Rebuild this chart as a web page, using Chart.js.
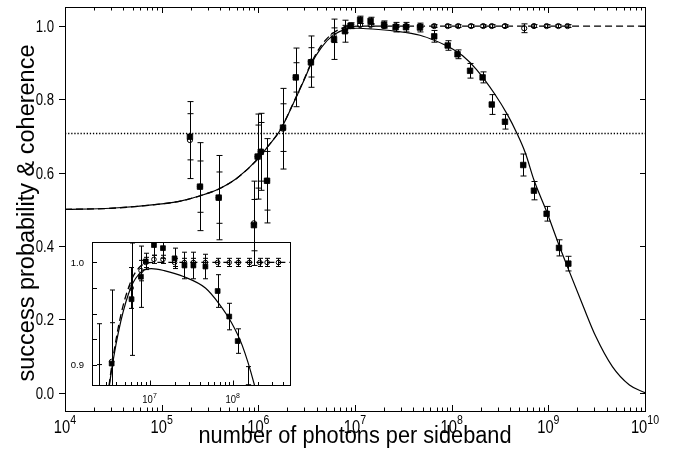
<!DOCTYPE html>
<html>
<head>
<meta charset="utf-8">
<script src="https://cdn.jsdelivr.net/npm/chart.js@4.4.1/dist/chart.umd.min.js"></script>
<style>
  html, body { margin: 0; padding: 0; background: #fff; }
  #wrap { position: relative; width: 676px; height: 455px; }
  #main { position: absolute; left: 0; top: 0; }
  #inset { position: absolute; left: 60px; top: 228px; }
</style>
</head>
<body>
<div id="wrap">
  <canvas id="main" width="676" height="455"></canvas>
  <canvas id="inset" width="240" height="182"></canvas>
</div>
<script>
// Measured success probability (filled squares)
var sqN   = [1.96e5, 2.49e5, 3.89e5, 9.0e5, 9.84e5, 1.06e6, 1.23e6, 1.80e6, 2.44e6, 3.50e6,
             6.07e6, 7.87e6, 9.0e6, 1.13e7, 1.45e7, 2.0e7, 2.63e7, 3.37e7, 4.7e7, 6.6e7,
             9.1e7, 1.15e8, 1.55e8, 2.09e8, 2.6e8, 3.56e8, 5.5e8, 7.1e8, 9.6e8, 1.29e9, 1.61e9];
var sqP   = [0.698, 0.562, 0.532, 0.457, 0.644, 0.657, 0.578, 0.723, 0.860, 0.901,
             0.964, 0.986, 1.001, 1.017, 1.014, 1.004, 0.997, 0.997, 0.996, 0.972,
             0.947, 0.923, 0.878, 0.860, 0.786, 0.739, 0.621, 0.551, 0.488, 0.395, 0.352];
var sqErr = [0.063, 0.07, 0.07, 0.07, 0.086, 0.08, 0.08, 0.065, 0.04, 0.04,
             0.055, 0.03, 0.008, 0.01, 0.01, 0.01, 0.013, 0.013, 0.012, 0.016,
             0.013, 0.012, 0.02, 0.015, 0.027, 0.02, 0.03, 0.025, 0.02, 0.022, 0.02];

// Measured coherence (open circles)
var ciN   = [1.96e5, 2.49e5, 3.89e5, 9.0e5, 9.84e5, 1.06e6, 1.23e6, 1.80e6, 2.44e6, 3.50e6,
             6.0e6, 7.9e6, 9.0e6, 1.13e7, 1.45e7, 2.0e7, 2.63e7, 3.37e7, 4.7e7, 6.6e7,
             9.1e7, 1.17e8, 1.59e8, 2.12e8, 2.6e8, 3.56e8, 5.63e8, 7.1e8, 9.6e8, 1.27e9, 1.58e9];
var ciP   = [0.689, 0.562, 0.532, 0.462, 0.644, 0.657, 0.578, 0.720, 0.860, 0.903,
             0.975, 0.992, 1.0, 1.003, 1.003, 1.0, 1.0, 1.0, 1.0, 1.0,
             1.0, 1.0, 1.0, 1.0, 1.0, 1.0, 0.994, 1.0, 1.0, 1.0, 1.0];
var ciErr = [0.105, 0.12, 0.115, 0.115, 0.116, 0.105, 0.115, 0.11, 0.08, 0.07,
             0.02, 0.01, 0.005, 0.004, 0.004, 0.004, 0.004, 0.004, 0.004, 0.004,
             0.004, 0.004, 0.004, 0.004, 0.004, 0.004, 0.012, 0.004, 0.004, 0.004, 0.004];

// Theory curve for success probability (solid line)
var fitN = [1e4, 3e4, 1e5, 1.6e5, 2.5e5, 4e5, 6e5, 1e6, 1.25e6, 1.7e6,
            2.3e6, 3e6, 3.5e6, 4.5e6, 6e6, 8e6, 1.05e7, 1.5e7, 2.6e7, 4.7e7,
            6.8e7, 9.7e7, 1.3e8, 1.8e8, 2.8e8, 3.8e8, 4.7e8, 5.8e8, 7.1e8, 9.6e8,
            1.3e9, 1.6e9, 2.3e9, 3.1e9, 4.6e9, 6.9e9, 1e10];
var fitP = [0.500, 0.503, 0.515, 0.523, 0.537, 0.557, 0.585, 0.639, 0.671, 0.718,
            0.789, 0.855, 0.895, 0.942, 0.976, 0.991, 0.994, 0.992, 0.986, 0.975,
            0.960, 0.941, 0.919, 0.882, 0.814, 0.757, 0.709, 0.653, 0.580, 0.494,
            0.400, 0.339, 0.235, 0.153, 0.071, 0.021, 0.0];

// Theory curve for coherence (dashed line)
var cohN = [1e4, 3e4, 1e5, 1.6e5, 2.5e5, 4e5, 6e5, 1e6, 1.25e6, 1.7e6,
            2.3e6, 3e6, 3.5e6, 4.5e6, 6e6, 7.5e6, 9e6, 1.2e7, 2e7, 1e8, 1e9, 1e10];
var cohP = [0.500, 0.503, 0.515, 0.523, 0.537, 0.557, 0.585, 0.639, 0.671, 0.719,
            0.790, 0.857, 0.898, 0.948, 0.982, 0.995, 0.999, 1.0, 1.0, 1.0, 1.0, 1.0];

// 1/sqrt(2) level (dotted line)
var levelN = [1e4, 1e10];
var levelP = [0.707, 0.707];

// Axis ticks
var mainDecades = [4, 5, 6, 7, 8, 9, 10];
var mainYTicks  = [0.0, 0.2, 0.4, 0.6, 0.8, 1.0];
var insetDecades = [6, 7, 8];
var insetXLabels = [7, 8];
var insetYTicks  = [0.9, 0.925, 0.95, 0.975, 1.0];
var insetYLabels = [0.9, 1.0];

function pts(xs, ys) {
    return xs.map(function(v, i) { return {x: v, y: ys[i]}; });
}

// Draws text with an optional horizontal / vertical squeeze
function drawText(ctx, text, x, y, font, sx, sy, align) {
    ctx.save();
    ctx.translate(x, y);
    ctx.scale(sx, sy);
    ctx.font = font;
    ctx.textAlign = align;
    ctx.textBaseline = 'alphabetic';
    ctx.fillText(text, 0, 0);
    ctx.restore();
}

// "10" with a raised exponent, centred on cx
function drawPower(ctx, exp, cx, base, o) {
    ctx.save();
    ctx.font = o.baseFont;
    var wb = ctx.measureText('10').width * o.sx;
    ctx.font = o.expFont;
    var we = ctx.measureText(String(exp)).width * o.sx;
    ctx.restore();
    var left = cx - (wb + we) / 2;
    drawText(ctx, '10', left, base, o.baseFont, o.sx, o.sy, 'left');
    drawText(ctx, String(exp), left + wb, base - o.raise, o.expFont, o.sx, o.sy, 'left');
}

// Error bars, drawn just under the markers of the dataset that owns them
var errorBars = {
    id: 'errorBars',
    beforeDatasetDraw: function(chart, args) {
        var ds = chart.data.datasets[args.index];
        if (!ds.errors) return;
        var ctx = chart.ctx, a = chart.chartArea;
        var xs = chart.scales.x, ys = chart.scales.y;
        var cap = ds.capWidth || 3;
        ctx.save();
        ctx.beginPath();
        ctx.rect(a.left, a.top, a.right - a.left, a.bottom - a.top);
        ctx.clip();
        ctx.strokeStyle = '#000';
        ctx.lineWidth = 1;
        ctx.beginPath();
        ds.data.forEach(function(p, i) {
            var e = ds.errors[i];
            var px = Math.round(xs.getPixelForValue(p.x)) + 0.5;
            var top = ys.getPixelForValue(p.y + e);
            var bot = ys.getPixelForValue(p.y - e);
            ctx.moveTo(px, top); ctx.lineTo(px, bot);
            ctx.moveTo(px - cap, top); ctx.lineTo(px + cap, top);
            ctx.moveTo(px - cap, bot); ctx.lineTo(px + cap, bot);
        });
        ctx.stroke();
        ctx.restore();
    }
};

// Frame, inward log ticks and labels of the main plot
var mainFrame = {
    id: 'mainFrame',
    afterDraw: function(chart) {
        var ctx = chart.ctx, a = chart.chartArea;
        var xs = chart.scales.x, ys = chart.scales.y;
        ctx.save();
        ctx.strokeStyle = '#000';
        ctx.fillStyle = '#000';
        ctx.lineWidth = 1;
        ctx.strokeRect(a.left + 0.5, a.top + 0.5, a.right - a.left, a.bottom - a.top);
        ctx.beginPath();
        mainDecades.forEach(function(d) {
            for (var k = 1; k <= 9; k++) {
                if (d === 10 && k > 1) break;
                var px = Math.round(xs.getPixelForValue(k * Math.pow(10, d))) + 0.5;
                var len = k === 1 ? 6 : 3.5;
                ctx.moveTo(px, a.bottom); ctx.lineTo(px, a.bottom - len);
                ctx.moveTo(px, a.top); ctx.lineTo(px, a.top + len);
            }
        });
        mainYTicks.forEach(function(v) {
            var py = Math.round(ys.getPixelForValue(v)) + 0.5;
            ctx.moveTo(a.left - 6, py); ctx.lineTo(a.left, py);
            ctx.moveTo(a.right + 1, py); ctx.lineTo(a.right - 5, py);
        });
        ctx.stroke();

        var lab = {baseFont: '16px "Liberation Sans", Arial, sans-serif',
                   expFont: '11.5px "Liberation Sans", Arial, sans-serif',
                   sx: 0.92, sy: 1.15, raise: 9};
        mainDecades.forEach(function(d) {
            drawPower(ctx, d, xs.getPixelForValue(Math.pow(10, d)), a.bottom + 22, lab);
        });
        mainYTicks.forEach(function(v) {
            drawText(ctx, v.toFixed(1), a.left - 11, ys.getPixelForValue(v) + 6,
                     '15px "Liberation Sans", Arial, sans-serif', 0.88, 1.15, 'right');
        });

        drawText(ctx, 'number of photons per sideband', (a.left + a.right) / 2, 443,
                 '23px "Liberation Sans", Arial, sans-serif', 0.945, 1.05, 'center');
        ctx.save();
        ctx.translate(34, 213);
        ctx.rotate(-Math.PI / 2);
        ctx.font = '23.5px "Liberation Sans", Arial, sans-serif';
        ctx.textAlign = 'center';
        ctx.fillText('success probability & coherence', 0, 0);
        ctx.restore();
        ctx.restore();
    }
};

// Frame and labels of the inset
var insetFrame = {
    id: 'insetFrame',
    afterDraw: function(chart) {
        var ctx = chart.ctx, a = chart.chartArea;
        var xs = chart.scales.x, ys = chart.scales.y;
        ctx.save();
        ctx.strokeStyle = '#000';
        ctx.fillStyle = '#000';
        ctx.lineWidth = 1;
        ctx.strokeRect(a.left + 0.5, a.top + 0.5, a.right - a.left, a.bottom - a.top);
        ctx.beginPath();
        insetDecades.forEach(function(d) {
            for (var k = 1; k <= 9; k++) {
                var v = k * Math.pow(10, d);
                if (v < xs.min || v > xs.max) continue;
                var px = Math.round(xs.getPixelForValue(v)) + 0.5;
                var len = k === 1 ? 4.5 : 3;
                ctx.moveTo(px, a.bottom); ctx.lineTo(px, a.bottom - len);
            }
        });
        insetYTicks.forEach(function(v) {
            var py = Math.round(ys.getPixelForValue(v)) + 0.5;
            ctx.moveTo(a.left, py); ctx.lineTo(a.left + 5, py);
        });
        ctx.stroke();

        var lab = {baseFont: '9.5px "Liberation Sans", Arial, sans-serif',
                   expFont: '7px "Liberation Sans", Arial, sans-serif',
                   sx: 1, sy: 1.1, raise: 5};
        insetXLabels.forEach(function(d) {
            drawPower(ctx, d, xs.getPixelForValue(Math.pow(10, d)), a.bottom + 17.5, lab);
        });
        insetYLabels.forEach(function(v) {
            drawText(ctx, v.toFixed(1), a.left - 8, ys.getPixelForValue(v) + 3.5,
                     '9.5px "Liberation Sans", Arial, sans-serif', 1, 1.05, 'right');
        });
        ctx.restore();
    }
};

function makeDatasets(sqSize, ciSize, cap) {
    return [
        {
            label: 'success probability',
            data: pts(sqN, sqP), errors: sqErr, capWidth: cap,
            pointStyle: 'rect', pointRadius: sqSize, borderWidth: 0.8,
            backgroundColor: '#000', borderColor: '#000', order: 0
        },
        {
            label: 'coherence',
            data: pts(ciN, ciP), errors: ciErr, capWidth: cap,
            pointStyle: 'circle', pointRadius: ciSize, borderWidth: 1,
            backgroundColor: 'rgba(255,255,255,0)', borderColor: '#000', order: 1
        },
        {
            label: 'success theory',
            data: pts(fitN, fitP), showLine: true, pointRadius: 0,
            borderColor: '#000', borderWidth: 1.2, cubicInterpolationMode: 'monotone', order: 2
        },
        {
            label: 'coherence theory',
            data: pts(cohN, cohP), showLine: true, pointRadius: 0, borderDash: [7, 4],
            borderColor: '#000', borderWidth: 1.3, cubicInterpolationMode: 'monotone', order: 3
        },
        {
            label: '1/sqrt2',
            data: pts(levelN, levelP), showLine: true, pointRadius: 0, borderDash: [1.3, 1.8],
            borderColor: '#000', borderWidth: 1.6, order: 4
        }
    ];
}

function baseOptions(xmin, xmax, ymin, ymax, pad) {
    return {
        responsive: false,
        animation: false,
        devicePixelRatio: 1,
        events: [],
        layout: { padding: pad },
        plugins: { legend: { display: false }, tooltip: { enabled: false } },
        scales: {
            x: { type: 'logarithmic', min: xmin, max: xmax, display: false },
            y: { type: 'linear', min: ymin, max: ymax, display: false }
        }
    };
}

new Chart(document.getElementById('main'), {
    type: 'scatter',
    data: { datasets: makeDatasets(3.9, 2.6, 3) },
    options: baseOptions(1e4, 1e10, -0.05, 1.052, {left: 65, top: 7, right: 31, bottom: 44}),
    plugins: [errorBars, mainFrame]
});

var insetSets = makeDatasets(3.4, 2.3, 2.5).slice(0, 4);
new Chart(document.getElementById('inset'), {
    type: 'scatter',
    data: { datasets: insetSets },
    options: baseOptions(2.03e6, 4.9e8, 0.88, 1.02, {left: 32, top: 14, right: 10, bottom: 25}),
    plugins: [errorBars, insetFrame]
});
</script>
</body>
</html>
